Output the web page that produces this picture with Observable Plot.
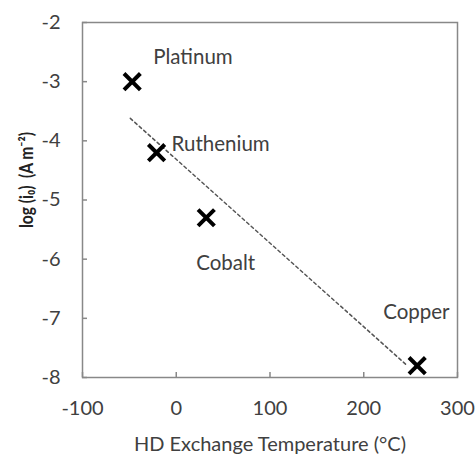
<!DOCTYPE html>
<html>
<head>
<meta charset="utf-8">
<script src="https://cdn.jsdelivr.net/npm/d3@7"></script>
<script src="https://cdn.jsdelivr.net/npm/@observablehq/plot@0.6"></script>
<style>
  html, body { margin: 0; padding: 0; background: #fff; }
</style>
</head>
<body>
<div id="chart"></div>
<script>
const metals = ["Platinum", "Ruthenium", "Cobalt", "Copper"];
const temperature = [-47, -21, 32, 257];
const logI0 = [-3.0, -4.2, -5.3, -7.8];
const trendX = [-49, 245];
const trendY = [-3.62, -7.78];
const xTicks = [-100, 0, 100, 200, 300];
const yTicks = [-2, -3, -4, -5, -6, -7, -8];
const xLabel = "HD Exchange Temperature (°C)";
const yLabel = "log (i₀)  (A m⁻²)";

const points = metals.map((m, i) => ({metal: m, x: temperature[i], y: logI0[i]}));
const trend = trendX.map((x, i) => ({x, y: trendY[i]}));

const labelOffsets = {
  Platinum: [21, -24],
  Ruthenium: [15, -8],
  Cobalt: [-10, 46],
  Copper: [-34, -53]
};

const textColor = "#404040";

const labelMarks = metals.map(m => Plot.text(points.filter(d => d.metal === m), {
  x: "x", y: "y", text: "metal",
  textAnchor: "start",
  dx: labelOffsets[m][0], dy: labelOffsets[m][1],
  fill: textColor, fontSize: 20.5
}));

const fmt = d => String(d);

const chart = Plot.plot({
  width: 476,
  height: 454,
  marginLeft: 82,
  marginTop: 22,
  marginRight: 19,
  marginBottom: 77,
  style: {fontFamily: "Lato, 'Open Sans', sans-serif", fontSize: "20px", color: textColor, background: "#fff"},
  x: {domain: [-100, 300]},
  y: {domain: [-8, -2]},
  marks: [
    Plot.axisX(xTicks, {tickSize: 0, tickPadding: 23, label: null, fill: textColor, fontSize: 20, tickFormat: fmt}),
    Plot.axisX(xTicks, {tickSize: -5, text: null, label: null, stroke: "#888", strokeWidth: 1.5}),
    Plot.axisY(yTicks, {tickSize: 0, tickPadding: 22, label: null, fill: textColor, fontSize: 20, tickFormat: fmt}),
    Plot.axisY(yTicks, {tickSize: -5, text: null, label: null, stroke: "#888", strokeWidth: 1.5}),
    Plot.frame({stroke: "#888", strokeWidth: 1.5}),
    Plot.line(trend, {x: "x", y: "y", stroke: "#555", strokeWidth: 1.5, strokeDasharray: "3,3"}),
    Plot.dot(points, {x: "x", y: "y", symbol: "times", r: 7.5, stroke: "#000", strokeWidth: 4}),
    ...labelMarks,
    Plot.text([xLabel], {frameAnchor: "bottom", dy: 67, text: d => d, fill: textColor, fontSize: 20, lineAnchor: "middle"}),
    Plot.text([yLabel], {frameAnchor: "left", textAnchor: "middle", dx: -55, dy: -20, rotate: -90, text: d => d, fill: "#222", fontSize: 18, fontWeight: "bold", lineAnchor: "middle", className: "ylabel"})
  ]
});
d3.select(chart).selectAll(".ylabel text")
  .attr("textLength", 96)
  .attr("lengthAdjust", "spacingAndGlyphs");
document.getElementById("chart").appendChild(chart);
</script>
</body>
</html>
